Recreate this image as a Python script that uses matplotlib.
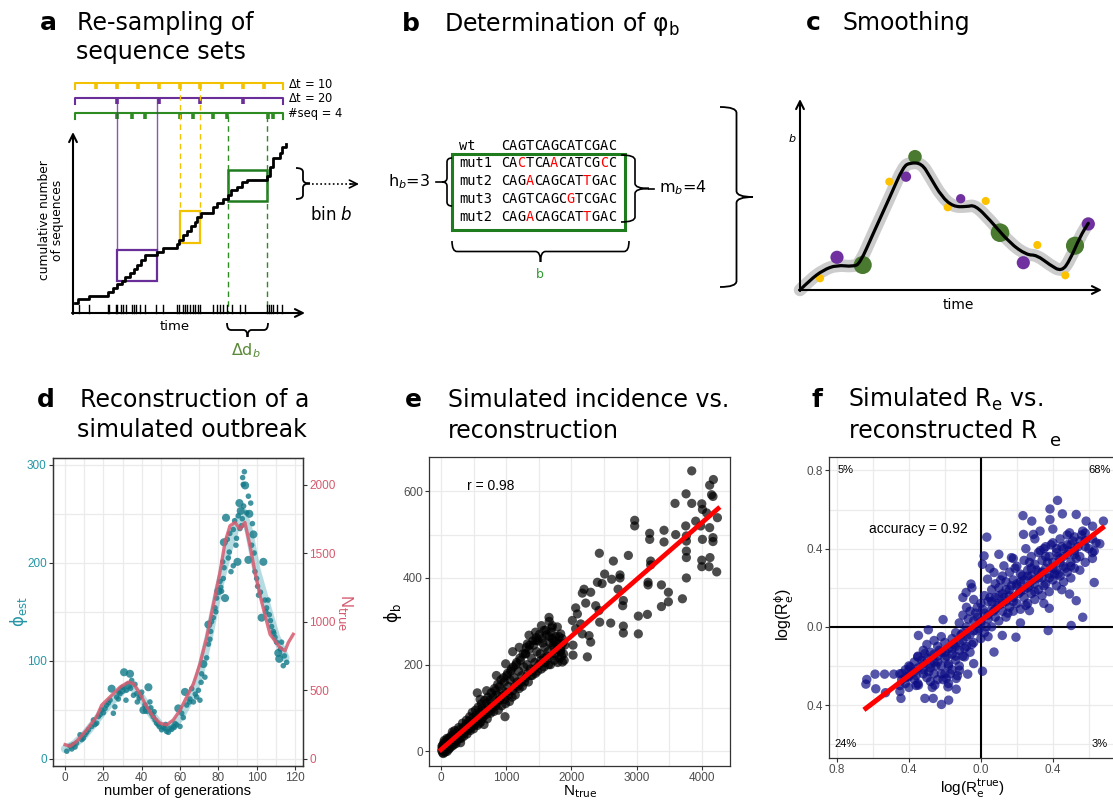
import numpy as np
import matplotlib.pyplot as plt
from matplotlib.path import Path
from matplotlib.patches import PathPatch, Rectangle
from matplotlib.ticker import MultipleLocator, FixedLocator, FixedFormatter

plt.rcParams['font.family'] = ['DejaVu Sans']
plt.rcParams['mathtext.fontset'] = 'dejavusans'

# ---------------- schematic values (panel a, pixel layout) ----------------
yellow_ticks = [96, 117, 138, 159, 180, 200, 222, 243, 264]
purple_ticks = [117, 159, 200, 243]
green_ticks = [117, 132, 145, 180, 193, 213, 227, 268, 273]
bar_start, bar_end = 75, 283

step_x = [75, 78.3, 89.3, 107.7, 113.3, 117.3, 121.7, 125, 130, 134, 137.3, 140.7, 145,
          156.7, 163.3, 176.7, 179.3, 182.7, 186.7, 190.7, 195, 197.3, 200.7, 212.7, 216.7,
          223.3, 228.3, 230.7, 236.7, 241.7, 246.7, 267.3, 270, 273.3, 280, 281.7, 286]
step_y = [302.7, 299.3, 296, 291.7, 288.3, 284, 281.3, 276.7, 273.3, 269.3, 265, 260, 255,
          251.7, 248.3, 244, 240, 235, 230.7, 226, 221.7, 216.7, 213.3, 207.3, 202.7,
          199.3, 195, 190, 186.7, 181.7, 180, 176, 166.7, 158.3, 153.3, 146.7, 144]
rug_x = [79.3, 89.3, 107.7, 109.3, 116, 117.3, 120.7, 123.3, 126, 131.7, 134, 136, 140, 145,
         156, 163.3, 177.3, 179, 183.3, 185, 187.3, 190, 192.7, 195, 198.3, 200, 213.3,
         216.7, 220, 223.3, 226.7, 231.7, 240, 245, 266.7, 269, 270.7, 272.7, 276.7, 281.7]

# panel b
seq_names = ['wt', 'mut1', 'mut2', 'mut3', 'mut2']
seq_rows = ['CAGTCAGCATCGAC', 'CACTCAACATCGCC', 'CAGACAGCATTGAC',
            'CAGTCAGCGTCGAC', 'CAGACAGCATTGAC']

# panel c (smoothing sketch)
c_curve_x = [800, 810, 823.3, 836.7, 853.3, 860, 873.3, 890, 903.3, 910, 921.7, 930, 941.7,
             953.3, 966.7, 975, 990, 1010, 1026.7, 1036.7, 1050, 1061.7, 1070, 1080, 1088.3]
c_curve_y = [290, 280, 270, 265, 266.7, 263.3, 233.3, 196.7, 166.7, 162.7, 163.3, 176.7,
             196.7, 206.7, 206.7, 205, 220, 243.3, 255, 255, 265, 271.7, 260, 236.7, 223.3]
c_yellow_x = [820, 889.3, 947.7, 985.7, 1037.3, 1065.3]
c_yellow_y = [278.3, 181.7, 207.3, 201, 245, 275.3]
c_purple_x = [837, 906, 960.7, 1023.3, 1088.3]
c_purple_y = [257.3, 176.7, 198.7, 262.7, 224]
c_purple_s = [90, 55, 45, 90, 90]
c_green_x = [862.7, 915, 1000, 1075]
c_green_y = [265, 156.7, 232.7, 245.7]
c_green_s = [170, 95, 180, 170]

# ---------------- panel d ----------------
d_gen = [0.9, 2.6, 4.3, 6, 7.8, 8.7, 10.4, 12.2, 13.9, 14.8, 16.5, 17.4, 19.1, 20.9, 21.7, 23.5,
         24.3, 25.2, 26, 26.9, 28.7, 29.6, 30.8, 31.8, 33, 33.9, 34.8, 35.7, 37.4, 37.7, 40, 40.9,
         42.6, 43.5, 44.3, 45.2, 46, 47, 47.8, 49.2, 50.4, 52.2, 53, 54.8, 56.5, 58.3, 60, 59.1,
         60.9, 62.6, 63.5, 64.9, 66.1, 67, 68.7, 69.6, 70.4, 71.3, 72.2, 73, 73.9, 74.8, 74.8, 76,
         77.4, 78.3, 79.1, 80, 80.9, 81.7, 82.6, 83.5, 82.3, 82.9, 84, 84.7, 85.7, 86.6, 87.8, 87.8,
         89.2, 90, 90.4, 91, 91.7, 92.2, 92.7, 93, 93.6, 94, 94.8, 95.7, 96.2, 96.9, 95.7, 97.4,
         98.3, 99.1, 100, 101, 102.6, 103.5, 104.3, 105.2, 106, 106.6, 107.8, 108.7, 109.6, 110.4,
         111.3, 111.8, 113, 113.9, 115.7,
         3.5, 5.2, 9.5, 11.3, 15.6, 18.3, 20, 22.6, 27.8, 30, 32, 36.5, 38.7, 41.7, 48.7, 51.3,
         55.6, 57.4, 61.7, 65.2, 68, 71, 75.6, 76.5, 78.7, 81.3, 83, 85.2, 86, 88.5, 89.5, 91.3,
         92.5, 93.2, 97.8, 98.7, 100.5, 102, 104.8, 107.2, 109, 112.5, 114.5, 57, 53.9, 52.5,
         46.5, 44.8, 39.5, 34.2, 28]
d_phi = [7.7, 12.8, 14.4, 16, 24.5, 19.5, 24.5, 29.6, 33, 39.6, 36.3, 43, 49.7, 51.4, 54.8, 59.8,
         71.5, 46.4, 53, 63, 66.5, 69.9, 88.3, 59.8, 74.9, 86.7, 80, 64.8, 66.5, 58, 68, 49.7,
         49.7, 73, 58, 46, 43, 39.6, 36.3, 33, 29.6, 31.2, 27.9, 31.2, 33, 34.6, 33, 51.4,
         46.4, 68.2, 54.8, 58, 71.5, 58, 63, 69.9, 59.8, 86.7, 96.7, 83.3, 103, 117, 137, 130,
         144, 154, 164, 171, 181, 171, 184, 164, 201, 221, 246, 224, 211, 191, 197, 234,
         218, 201, 248, 261, 253, 238, 287, 280, 293, 279, 251, 268, 250, 261, 203, 218,
         229, 191, 184, 167, 144, 201, 162, 154, 162, 147, 135, 130, 124, 119,
         108, 102, 119, 95, 98.4,
         10, 12, 21, 27, 35, 45, 47, 57, 61, 73, 70, 76, 62, 55, 35, 32,
         30, 36, 42, 61, 66, 78, 122, 140, 150, 175, 195, 205, 230, 243, 225, 235,
         245, 258, 240, 210, 176, 170, 150, 141, 128, 112, 105, 32, 27, 35,
         48, 52, 64, 72, 68]
d_size = [1, 1, 1, 1, 1, 1, 1, 1, 1, 1, 1, 1, 1, 1, 1, 1,
          2, 1, 1, 1, 1, 2, 2, 1, 2, 2, 1, 1, 1, 1, 1, 2,
          2, 2, 1, 1, 1, 1, 1, 1, 1, 1, 1, 1, 1, 1, 1, 2,
          1, 2, 1, 1, 1, 1, 1, 1, 1, 1, 2, 1, 1, 1, 2, 1,
          1, 1, 1, 2, 1, 1, 1, 2, 1, 2, 2, 1, 1, 1, 1, 1,
          1, 2, 1, 2, 2, 1, 1, 1, 1, 2, 1, 1, 2, 1, 2, 1,
          2, 1, 1, 1, 2, 2, 1, 1, 1, 1, 1, 1, 1, 1,
          2, 2, 1, 1, 1] + [1] * 51
d_sm_gen = [0, 5, 10, 15, 20, 25, 30, 35, 40, 45, 50, 55, 60, 65, 70, 75, 80, 85, 90, 93, 96,
            100, 105, 110, 115]
d_sm_phi = [10, 15, 24, 36, 49, 60, 70, 74, 62, 46, 33, 31, 42, 60, 84, 124, 172, 212, 242,
            252, 232, 192, 158, 125, 103]
d_true_gen = [0, 2.6, 6, 11.3, 16.5, 19.1, 21.7, 26.1, 28.7, 33, 35.7, 39.1, 42.6, 46.1, 49.6,
              53, 56.5, 60, 63.5, 67, 70.4, 73.9, 77.4, 80.9, 83.5, 86.1, 88.7, 91.3, 93.9,
              96.5, 99.1, 101.7, 104.3, 107, 109.6, 112.2, 114.8, 116.5, 119.1]
d_true_n = [103, 91, 127, 211, 307, 391, 427, 487, 523, 559, 547, 475, 379, 307, 259, 247, 283,
            355, 451, 547, 691, 884, 1124, 1364, 1580, 1700, 1724, 1676, 1724, 1556, 1364,
            1196, 1052, 908, 860, 811, 787, 847, 908]

# ---------------- panel e ----------------
e_ntrue = [3846, 4178, 4121, 4172, 4150, 3759, 3590, 3846, 4000, 4010, 4075, 4240, 3907, 3984,
           3754, 3600, 4121, 2971, 2971, 3201, 3201, 3421, 3421, 3764, 3764, 4010, 4172, 4172,
           3764, 3764, 4126, 4000, 4000, 4111, 4229, 3764, 2429, 2874, 2644, 3216, 3216, 2746,
           2746, 2510, 2618, 3176, 3176, 3381, 3488, 3703, 3488, 3381, 3166, 3027, 2434, 2603,
           2797, 2797, 3027, 2797, 2787, 2716, 2471, 2399, 2296, 2194, 2168, 2066, 2092, 2220,
           2373, 2271, 2296, 2245, 2025, 2025, 2066, 2143, 2015, 2168, 2424, 1657, 1708, 1785,
           1836, 1836, 1862, 1734, 1580, 1452, 1325, 1299, 992, 557, 982,
           10, 20, 25, 30, 40, 50, 55, 60, 70, 80, 90, 100, 110, 120, 130, 140, 150, 160, 170,
           180, 190, 200, 220, 230, 250, 260, 280, 290, 300, 320, 340, 350, 370, 380, 400, 420,
           430, 450, 470, 490, 500, 520, 540, 560, 580, 600, 610, 630, 650, 660, 680, 700, 710,
           730, 750, 760, 780, 800, 810, 830, 850, 860, 880, 900, 910, 930, 950, 970, 980, 1000,
           1010, 1030, 1050, 1060, 1080, 1100, 1120, 1140, 1150, 1170, 1190, 1200, 1220, 1240,
           1250, 1270, 1290, 1300, 1320, 1340, 1350, 1370, 1390, 1400, 1420, 1440, 1450, 1470,
           1490, 1500, 1520, 1540, 1550, 1570, 1590, 1600, 1620, 1640, 1650, 1670, 1690, 1700,
           1720, 1740, 1760, 1780, 1800, 1820, 1840, 1860, 1880, 1900,
           15, 35, 45, 65, 85, 95, 115, 135, 155, 175, 195, 210, 240, 270, 310, 330, 360, 390,
           410, 440, 460, 480, 510, 530, 550, 570, 590, 620, 640, 670, 690, 720, 740, 770, 790,
           820, 840, 870, 890, 920, 940, 960, 990, 1020, 1040, 1070, 1090, 1110, 1130, 1160,
           1180, 1210, 1230, 1260, 1280, 1310, 1330, 1360, 1380, 1410, 1430, 1460, 1480, 1510,
           1530, 1560, 1580, 1610, 1630, 1660, 1680, 1710, 1730, 1750, 1770, 1790, 1810, 1830,
           1850, 1870, 1890, 1660, 1700, 1540, 1450, 1350, 1200, 1100, 850, 700, 600]
e_phi = [647, 627, 614, 588, 592, 594, 572, 572, 571, 558, 550, 539, 531, 520,
         520, 500, 516, 533, 520, 503, 489, 510, 483, 497, 485, 489, 493, 484,
         462, 447, 447, 441, 426, 426, 414, 400, 457, 452, 439, 439, 430, 407,
         400, 409, 397, 390, 384, 384, 367, 352, 345, 334, 316, 312, 298, 296,
         289, 273, 271, 348, 336, 374, 387, 390, 367, 374, 365, 331, 317, 342,
         336, 267, 252, 218, 245, 222, 283, 294, 302, 271, 325, 309, 290, 287,
         271, 233, 206, 256, 279, 256, 248, 225, 202, 135, 80,
         2, 8, -3, 15, 5, 25, 10, -2, 18, 8, 30, 14, 22, 5, 28, 15, 35, 20, 12,
         30, 40, 22, 35, 18, 42, 28, 50, 32, 20, 45, 55, 35, 48, 62, 40, 58,
         70, 48, 65, 78, 52, 70, 85, 60, 75, 90, 68, 100, 80, 62, 95, 110, 75,
         100, 118, 88, 105, 125, 92, 140, 110, 130, 95, 150, 120, 105, 140, 160, 120, 135,
         175, 150, 115, 165, 190, 140, 170, 130, 200, 160, 185, 145, 210, 175,
         150, 195, 225, 170, 200, 160, 235, 190, 215, 175, 245, 205, 180, 230,
         255, 200, 225, 190, 260, 215, 240, 205, 268, 230, 200, 250, 275, 220,
         245, 210, 265, 235, 250, 215, 240, 260, 225, 245,
         12, -5, 20, 5, 22, 0, 30, 8, 25, 45, 15, 48, 25, 55, 30, 65, 42, 72,
         50, 80, 55, 90, 60, 95, 72, 102, 65, 110, 78, 118, 85, 125, 92, 135, 100,
         145, 105, 155, 118, 165, 128, 170, 110, 180, 130, 185, 125, 195, 150, 205,
         150, 215, 160, 225, 160, 240, 180, 245, 175, 255, 190, 262, 185, 270,
         210, 250, 195, 280, 220, 265, 200, 260, 240, 225, 250, 205, 265, 230,
         220, 250, 210, 300, 285, 290, 275, 268, 240, 230, 175, 140, 120]
e_fit_x = [0, 4250]
e_fit_y = [4, 560]

# ---------------- panel f ----------------
f_out_x = [0.426, 0.384, 0.453, 0.530, 0.234, 0.283, 0.384, 0.585, 0.681, 0.033, 0.237, 0.292,
           0.329, 0.493, 0.566, 0.621, 0.661, 0.630, 0.630, 0.566, 0.502, 0.374, 0.195, 0.018,
           0.100, 0.009, -0.055, -0.082, 0.128, 0.073, 0.037, 0.170, 0.270, 0.380, 0.530, 0.493,
           -0.210, -0.292, -0.347, -0.311, -0.351, -0.393, -0.438, -0.484, -0.535, -0.588,
           -0.634, -0.639, -0.584, -0.530, -0.444, -0.311, -0.265, -0.219, -0.179, -0.183,
           -0.137, -0.256, -0.347, -0.402, -0.073, -0.040, 0.009, 0.073, 0.119, -0.091,
           -0.119, -0.137, -0.192]
f_out_y = [0.647, 0.603, 0.578, 0.575, 0.569, 0.541, 0.549, 0.541, 0.541, 0.459, 0.473, 0.473,
           0.490, 0.481, 0.490, 0.515, 0.425, 0.388, 0.227, 0.049, 0.007, -0.019, -0.053, 0.363,
           0.371, 0.320, 0.219, 0.176, 0.312, 0.278, 0.244, 0.354, 0.083, 0.095, 0.134, 0.168,
           0.037, -0.015, -0.044, -0.137, -0.154, -0.205, -0.239, -0.242, -0.242, -0.242,
           -0.269, -0.293, -0.317, -0.337, -0.366, -0.366, -0.366, -0.397, -0.375, -0.307,
           -0.319, -0.298, -0.298, -0.256, -0.242, -0.188, -0.227, -0.129, -0.044, -0.154,
           -0.222, -0.264, -0.264]
f_core_x = [-0.45, -0.42, -0.40, -0.37, -0.35, -0.32, -0.30, -0.28, -0.26, -0.24, -0.22, -0.20,
            -0.18, -0.16, -0.14, -0.12, -0.10, -0.08, -0.06, -0.04, -0.02, 0.00, 0.02, 0.04,
            0.06, 0.08, 0.10, 0.12, 0.14, 0.16, 0.18, 0.20, 0.22, 0.24, 0.26, 0.28, 0.30, 0.32,
            0.34, 0.36, 0.38, 0.40, 0.42, 0.44, 0.46, 0.48, 0.50, 0.52, 0.55, 0.58, 0.62]
f_core_y = [[-0.30, -0.24, -0.33], [-0.22, -0.29, -0.26], [-0.31, -0.20, -0.25],
            [-0.18, -0.27, -0.23], [-0.29, -0.15, -0.21], [-0.24, -0.12, -0.19],
            [-0.26, -0.16, -0.09], [-0.21, -0.13, -0.28], [-0.07, -0.18, -0.24],
            [-0.15, -0.27, -0.10], [-0.20, -0.05, -0.13], [-0.24, -0.16, -0.08],
            [-0.11, -0.19, -0.29], [-0.06, -0.14, -0.22], [-0.17, -0.03, -0.10],
            [-0.12, -0.20, 0.02], [-0.07, 0.06, -0.15], [0.00, -0.10, 0.10],
            [-0.04, 0.08, -0.13], [0.03, -0.08, 0.14], [0.10, -0.02, 0.05],
            [0.02, 0.12, -0.06], [0.07, -0.03, 0.16], [0.13, 0.04, -0.05],
            [0.09, 0.19, 0.00], [0.15, 0.05, 0.22], [0.11, 0.20, 0.03],
            [0.17, 0.08, 0.26], [0.13, 0.23, 0.05], [0.19, 0.28, 0.10],
            [0.15, 0.24, 0.08], [0.21, 0.31, 0.12], [0.18, 0.27, 0.09],
            [0.24, 0.34, 0.15], [0.20, 0.29, 0.12], [0.26, 0.36, 0.17],
            [0.22, 0.32, 0.14], [0.28, 0.38, 0.19], [0.25, 0.34, 0.16],
            [0.30, 0.41, 0.22], [0.27, 0.36, 0.18], [0.33, 0.43, 0.24],
            [0.29, 0.38, 0.21], [0.35, 0.45, 0.26], [0.31, 0.40, 0.23],
            [0.37, 0.47, 0.28], [0.33, 0.42, 0.25], [0.39, 0.46, 0.30],
            [0.36, 0.44, 0.29], [0.41, 0.48, 0.33], [0.38, 0.45, 0.35]]
f_more_x = [-0.44, -0.40, -0.36, -0.33, -0.29, -0.27, -0.25, -0.23, -0.21, -0.19, -0.17, -0.15,
            -0.13, -0.11, -0.09, -0.07, -0.05, -0.03, -0.01, 0.01, 0.03, 0.05, 0.07, 0.09,
            0.11, 0.13, 0.15, 0.17, 0.19, 0.21, 0.23, 0.25, 0.27, 0.29, 0.31, 0.33, 0.35, 0.37,
            0.39, 0.41, 0.43, 0.45, 0.47, 0.49, 0.51, 0.53, 0.56, 0.60, 0.64, 0.30, 0.25, 0.18,
            0.40, 0.45, 0.35, 0.22, -0.05, -0.10, 0.05,
            0.20, 0.24, 0.28, 0.32, 0.36, 0.40, 0.44, 0.48, 0.52, 0.34, 0.38, 0.42, 0.26, 0.30,
            0.16, 0.12, 0.08, 0.04, 0.00, -0.04, -0.08, -0.12, -0.16, -0.20, -0.24, -0.28,
            -0.32, -0.36, -0.18, -0.22, -0.26, -0.14, -0.10, 0.06, 0.10, 0.14, 0.18, 0.22,
            0.46, 0.50, 0.54, 0.58, 0.35, 0.27, 0.43]
f_more_y = [-0.27, -0.22, -0.30, -0.17, -0.23, -0.31, -0.20, -0.12, -0.27, -0.15, -0.24, -0.09,
            -0.25, -0.04, -0.11, 0.04, -0.09, 0.07, -0.01, 0.09, 0.00, 0.15, 0.08, 0.12,
            0.24, 0.15, 0.07, 0.21, 0.30, 0.17, 0.26, 0.11, 0.33, 0.24, 0.29, 0.39, 0.21, 0.33,
            0.42, 0.27, 0.36, 0.41, 0.30, 0.39, 0.44, 0.35, 0.47, 0.40, 0.43, 0.45, 0.40, 0.35,
            0.50, 0.19, 0.12, 0.02, 0.20, 0.15, 0.30,
            0.22, 0.19, 0.30, 0.25, 0.36, 0.30, 0.33, 0.42, 0.37, 0.28, 0.25, 0.40, 0.26, 0.18,
            0.16, 0.12, 0.09, 0.06, 0.03, -0.02, -0.05, -0.08, -0.11, -0.13, -0.18, -0.19,
            -0.22, -0.25, -0.20, -0.24, -0.14, -0.15, -0.03, 0.13, 0.16, 0.19, 0.13, 0.23,
            0.36, 0.31, 0.41, 0.44, 0.40, 0.21, 0.27]
f_fit_x = [-0.639, 0.676]
f_fit_y = [-0.417, 0.507]
f_quadrants = [(-0.75, 0.8, '5%'), (0.66, 0.8, '68%'), (-0.75, -0.6, '24%'), (0.66, -0.6, '3%')]

# ---------------- colours ----------------
YEL, PUR, GRN = '#f2c200', '#6a2e99', '#2e8b22'
TEAL, TEAL_TXT, ROSE = '#137a89', '#2596a6', '#d65a6e'
GRID, FRAME, TICKTXT = '#ebebeb', '#333333', '#4d4d4d'
SANS = ['Liberation Sans', 'DejaVu Sans']


def brace(ax, p0, p1, depth, r, **kw):
    p0 = np.array(p0, float)
    p1 = np.array(p1, float)
    L = np.hypot(*(p1 - p0))
    u = (p1 - p0) / L
    n = np.array([-u[1], u[0]])
    h, m = depth / 2, L / 2
    local = [(0, 0), (0, h), (r, h), (m - r, h), (m, h), (m, depth), (m, h), (m + r, h),
             (L - r, h), (L, h), (L, 0)]
    codes = [Path.MOVETO, Path.CURVE3, Path.CURVE3, Path.LINETO, Path.CURVE3, Path.CURVE3,
             Path.CURVE3, Path.CURVE3, Path.LINETO, Path.CURVE3, Path.CURVE3]
    verts = [p0 + a * u + b * n for a, b in local]
    ax.add_patch(PathPatch(Path(verts, codes), fill=False, **kw))


def arrow(ax, x0, y0, x1, y1, lw=1.5):
    ax.annotate('', xy=(x1, y1), xytext=(x0, y0),
                arrowprops=dict(arrowstyle='->', lw=lw, color='k', mutation_scale=14,
                                shrinkA=0, shrinkB=0))


def bw_style(ax):
    ax.set_facecolor('white')
    ax.grid(True, which='both', color=GRID, lw=0.9, zorder=0)
    ax.set_axisbelow(True)
    for s in ax.spines.values():
        s.set_color(FRAME)
        s.set_linewidth(0.9)
    ax.tick_params(which='major', length=3, width=0.8, color=FRAME, labelsize=8.5,
                   labelcolor=TICKTXT, pad=1.5)
    ax.tick_params(which='minor', length=0)
    for lab in ax.get_xticklabels() + ax.get_yticklabels():
        lab.set_family(SANS)


fig = plt.figure(figsize=(11.13, 8.0), dpi=100)

# ---------------- panel d ----------------
axd = fig.add_axes([53 / 1113, 34 / 800, 250 / 1113, 308 / 800])
axd.set_xlim(-6.3, 124.2)
axd.set_ylim(-7.4, 307)
axd.xaxis.set_major_locator(MultipleLocator(20))
axd.xaxis.set_minor_locator(MultipleLocator(10))
axd.yaxis.set_major_locator(MultipleLocator(100))
axd.yaxis.set_minor_locator(MultipleLocator(50))
axd.plot(d_sm_gen, d_sm_phi, color='#5fb3bf', lw=6, alpha=0.45, solid_capstyle='round', zorder=2)
sizes = [16 if s == 1 else 34 for s in d_size]
axd.scatter(d_gen, d_phi, s=sizes, color=TEAL, alpha=0.8, edgecolors='none', zorder=3)
axd2 = axd.twinx()
axd2.set_ylim(-52.6, 2194)
axd2.plot(d_true_gen, d_true_n, color=ROSE, lw=2.4, alpha=0.85, zorder=4)
bw_style(axd)
axd.tick_params(axis='y', labelcolor=TEAL_TXT)
axd2.yaxis.set_major_locator(FixedLocator([0, 500, 1000, 1500, 2000]))
axd2.tick_params(length=3, width=0.8, color=FRAME, labelsize=8.5, labelcolor=ROSE, pad=1.5)
for lab in axd2.get_yticklabels():
    lab.set_family(SANS)
for s in axd2.spines.values():
    s.set_color(FRAME)
    s.set_linewidth(0.9)

# ---------------- panel e ----------------
axe = fig.add_axes([429 / 1113, 34 / 800, 301 / 1113, 309 / 800])
axe.set_xlim(-184, 4433)
axe.set_ylim(-33.7, 679)
axe.xaxis.set_major_locator(MultipleLocator(1000))
axe.xaxis.set_minor_locator(MultipleLocator(500))
axe.yaxis.set_major_locator(MultipleLocator(200))
axe.yaxis.set_minor_locator(MultipleLocator(100))
axe.scatter(e_ntrue, e_phi, s=44, color='black', alpha=0.7, edgecolors='none', zorder=3)
axe.plot(e_fit_x, e_fit_y, color='red', lw=3.4, zorder=4)
axe.text(400, 611, 'r = 0.98', fontsize=10, family=SANS, va='center', ha='left')
bw_style(axe)

# ---------------- panel f ----------------
fx = list(f_out_x) + list(f_more_x)
fy = list(f_out_y) + list(f_more_y)
for x, ys in zip(f_core_x, f_core_y):
    for y in ys:
        fx.append(x)
        fy.append(y)
axf = fig.add_axes([829 / 1113, 42 / 800, 287 / 1113, 301 / 800])
axf.set_xlim(-0.844, 0.751)
axf.set_ylim(-0.671, 0.869)
axf.xaxis.set_major_locator(FixedLocator([-0.8, -0.4, 0.0, 0.4]))
axf.xaxis.set_major_formatter(FixedFormatter(['0.8', '0.4', '0.0', '0.4']))
axf.xaxis.set_minor_locator(MultipleLocator(0.2))
axf.yaxis.set_major_locator(FixedLocator([-0.4, 0.0, 0.4, 0.8]))
axf.yaxis.set_major_formatter(FixedFormatter(['0.4', '0.0', '0.4', '0.8']))
axf.yaxis.set_minor_locator(MultipleLocator(0.2))
axf.axhline(0, color='black', lw=1.5, zorder=2)
axf.axvline(0, color='black', lw=1.5, zorder=2)
axf.scatter(fx, fy, s=46, color='#0d0d85', alpha=0.7, edgecolors='none', zorder=3)
axf.plot(f_fit_x, f_fit_y, color='red', lw=3.6, zorder=4)
for x, y, t in f_quadrants:
    axf.text(x, y, t, fontsize=8, family=SANS, ha='center', va='center')
axf.text(-0.62, 0.50, 'accuracy = 0.92', fontsize=10, family=SANS, ha='left', va='center')
bw_style(axf)

# ---------------- overlay for schematics and titles ----------------
ax0 = fig.add_axes([0, 0, 1, 1])
ax0.set_xlim(0, 1113)
ax0.set_ylim(800, 0)
ax0.axis('off')

# titles
title_kw = dict(fontsize=17, va='baseline', ha='left')
letter_kw = dict(fontsize=18, fontweight='bold', va='baseline', ha='left')
ax0.text(40, 30, 'a', **letter_kw)
ax0.text(77, 30, 'Re-sampling of', **title_kw)
ax0.text(76, 59, 'sequence sets', **title_kw)
ax0.text(402, 31, 'b', **letter_kw)
ax0.text(444, 31, r'Determination of $\mathrm{\varphi_b}$', **title_kw)
ax0.text(806, 30, 'c', **letter_kw)
ax0.text(842, 30, 'Smoothing', **title_kw)
ax0.text(37, 407, 'd', **letter_kw)
ax0.text(80, 407, 'Reconstruction of a', **title_kw)
ax0.text(77, 437, 'simulated outbreak', **title_kw)
ax0.text(405, 407, 'e', **letter_kw)
ax0.text(448, 407, 'Simulated incidence vs.', **title_kw)
ax0.text(448, 438, 'reconstruction', **title_kw)
ax0.text(811, 407, 'f', **letter_kw)
ax0.text(848, 407, r'Simulated R$_\mathrm{e}$ vs.', **title_kw)
ax0.text(849, 438, 'reconstructed R', **title_kw)
ax0.text(1050, 446, 'e', fontsize=13, va='baseline', ha='left')

# axis titles of d, e, f
ax0.text(178, 791, 'number of generations', fontsize=10.5, family=SANS, ha='center',
         va='center')
ax0.text(19, 612, r'$\mathrm{\phi_{est}}$', fontsize=12, color=TEAL_TXT, rotation=90,
         ha='center', va='center')
ax0.text(345, 613, r'N$_\mathrm{true}$', fontsize=12, family=SANS, color=ROSE, rotation=-90,
         ha='center', va='center')
ax0.text(580, 792, r'N$_\mathrm{true}$', fontsize=11, family=SANS, ha='center', va='center')
ax0.text(393, 613, r'$\mathrm{\phi_b}$', fontsize=12, rotation=90, ha='center', va='center')
ax0.text(973, 788, r'log(R$_\mathrm{e}^\mathrm{true}$)', fontsize=11, family=SANS,
         ha='center', va='center')
ax0.text(784, 615, r'log(R$_\mathrm{e}^\mathrm{\phi}$)', fontsize=11.5, family=SANS,
         rotation=90, ha='center', va='center')

# ---- panel a ----
for y, col, ticks, lab in [(83, YEL, yellow_ticks, r'$\Delta$t = 10'),
                           (98, PUR, purple_ticks, r'$\Delta$t = 20'),
                           (113, GRN, green_ticks, '#seq = 4')]:
    ax0.plot([bar_start, bar_start, bar_end, bar_end], [y + 6, y, y, y + 6], color=col, lw=1.5)
    for t in ticks:
        ax0.plot([t, t], [y, y + 6], color=col, lw=2.6, solid_capstyle='butt')
    ax0.text(288, y + 1, lab, fontsize=8.3, va='center', ha='left')

ax0.plot([117.3, 117.3], [99, 250], color=PUR, lw=1, alpha=0.8)
ax0.plot([157.3, 157.3], [99, 250], color=PUR, lw=1, alpha=0.8)
ax0.plot([180, 180], [85, 211], color=YEL, lw=1, ls=(0, (4, 3)))
ax0.plot([199.5, 199.5], [85, 211], color=YEL, lw=1, ls=(0, (4, 3)))
ax0.plot([227.5, 227.5], [116, 313], color=GRN, lw=1, ls=(0, (4, 3)))
ax0.plot([267, 267], [116, 313], color=GRN, lw=1, ls=(0, (4, 3)))

ax0.step(step_x, step_y, where='post', color='black', lw=2)
for x in rug_x:
    ax0.plot([x, x], [313, 305], color='black', lw=1)
ax0.add_patch(Rectangle((117.3, 250), 40, 31, fill=False, ec=PUR, lw=1.6))
ax0.add_patch(Rectangle((180, 211), 19.5, 32, fill=False, ec=YEL, lw=1.6))
ax0.add_patch(Rectangle((227.5, 170), 39.5, 31, fill=False, ec='#1e7b1e', lw=1.8))
arrow(ax0, 73, 314, 73, 132)
arrow(ax0, 72, 313, 305, 313)
ax0.text(51, 220, 'cumulative number\nof sequences', fontsize=8.8, rotation=90,
         ha='center', va='center', linespacing=1.1)
ax0.text(175, 327, 'time', fontsize=9.5, ha='center', va='center')
brace(ax0, (296, 168), (296, 199), -14, 4, ec='black', lw=1.3)
ax0.plot([312, 352], [184, 184], color='black', lw=1.2, ls=(0, (1, 1.5)))
arrow(ax0, 350, 184, 359, 184, lw=1.2)
ax0.text(310, 215, r'bin $b$', fontsize=12, ha='left', va='center')
brace(ax0, (227, 323), (268, 323), 14, 4, ec='black', lw=1.3)
ax0.text(246, 351, r'$\mathrm{\Delta d}_b$', fontsize=11.5, color='#5a8a3a', ha='center',
         va='center')

# ---- panel b ----
cw = 8.25
row_y = [145.7, 163, 181, 199, 216.7]
wt = seq_rows[0]
for name, seq, y in zip(seq_names, seq_rows, row_y):
    ax0.text(459.3, y, name, family='DejaVu Sans Mono', fontsize=9.8, ha='left', va='center')
    for i, ch in enumerate(seq):
        col = 'red' if ch != wt[i] else 'black'
        ax0.text(500.7 + i * cw + cw / 2, y, ch, family='DejaVu Sans Mono', fontsize=9.8,
                 color=col, ha='center', va='center')
ax0.add_patch(Rectangle((452, 154), 172.5, 75.5, fill=False, ec='#1e7b1e', lw=2.2))
brace(ax0, (452, 158), (452, 206), 10, 4, ec='black', lw=1.2)
ax0.plot([436, 442], [182, 182], color='black', lw=1.2)
ax0.text(388, 182, r'h$_b$=3', fontsize=11.5, ha='left', va='center')
brace(ax0, (621, 155), (621, 222), -28, 5, ec='black', lw=1.2)
ax0.plot([649, 654], [188.5, 188.5], color='black', lw=1.2)
ax0.text(659, 188, r'm$_b$=4', fontsize=11.5, ha='left', va='center')
brace(ax0, (452, 241), (629, 241), 21, 5, ec='black', lw=1.2)
ax0.text(540, 274, 'b', fontsize=9, color='#2e9a2e', ha='center', va='center')
brace(ax0, (720, 107), (720, 287), -33, 6, ec='black', lw=1.3)

# ---- panel c ----
pts = list(zip(c_curve_x, c_curve_y))
verts = [pts[0]]
codes = [Path.MOVETO]
for i in range(1, len(pts) - 1):
    mid = ((pts[i][0] + pts[i + 1][0]) / 2, (pts[i][1] + pts[i + 1][1]) / 2)
    verts += [pts[i], mid]
    codes += [Path.CURVE3, Path.CURVE3]
verts.append(pts[-1])
codes.append(Path.LINETO)
curve = Path(verts, codes)
ax0.add_patch(PathPatch(curve, fill=False, ec='#cccccc', lw=9, capstyle='round', joinstyle='round'))
ax0.scatter(c_yellow_x, c_yellow_y, s=34, color='#fcc200', edgecolors='none', zorder=3)
ax0.scatter(c_purple_x, c_purple_y, s=c_purple_s, color='#7030a0', edgecolors='none', zorder=3)
ax0.scatter(c_green_x, c_green_y, s=c_green_s, color='#4a7a30', edgecolors='none', zorder=3)
ax0.add_patch(PathPatch(curve, fill=False, ec='black', lw=2.3, capstyle='round',
                        joinstyle='round', zorder=4))
arrow(ax0, 800, 291, 800, 99)
arrow(ax0, 799, 290, 1102, 290)
ax0.text(792, 138, r'$b$', fontsize=8, ha='center', va='center')
ax0.text(958, 305, 'time', fontsize=10, ha='center', va='center')

fig.savefig('out.png', dpi=100)
